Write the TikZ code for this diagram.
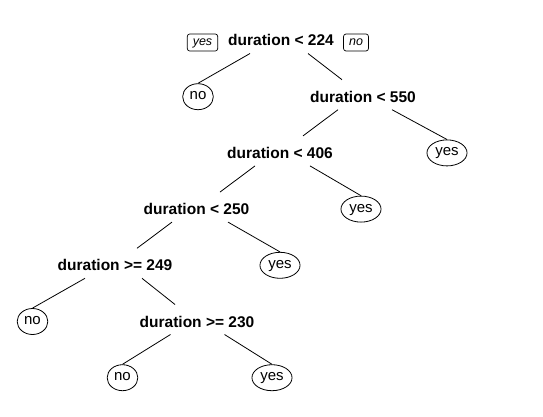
\documentclass[tikz,border=0pt]{standalone}
\usepackage{fontspec}
\setmainfont{Liberation Sans}
\usetikzlibrary{calc,shapes.geometric}
\begin{document}
\begin{tikzpicture}[x=1pt,y=-1pt,
 split/.style={font=\fontsize{15.5}{15.5}\selectfont\bfseries, inner sep=0pt, text height=11pt, text depth=0pt},
 leaf/.style={ellipse, draw, line width=0.8pt, font=\fontsize{15}{15}\selectfont, inner xsep=2.5pt, inner ysep=0pt, text height=9pt, text depth=3pt, minimum height=26pt},
 tag/.style={draw, rounded corners=2.5pt, line width=0.7pt, font=\fontsize{12.5}{12.5}\selectfont\itshape, inner xsep=5.5pt, inner ysep=0pt, text height=9pt, text depth=3pt, minimum height=17pt},
 edge/.style={line width=0.8pt}]
\fill[white] (0,0) rectangle (543,417);
\useasboundingbox (0,0) rectangle (543,417);
% split labels
\node[split] (r) at (281,40.5) {duration < 224};
\node[split] (a) at (363,96.7) {duration < 550};
\node[split] (b) at (280,152.9) {duration < 406};
\node[split] (c) at (196.5,209.1) {duration < 250};
\node[split] (d) at (115,265.3) {duration >= 249};
\node[split] (e) at (197,321.5) {duration >= 230};
% leaves
\node[leaf] (l1) at (198,96.7) {no};
\node[leaf] (l2) at (447,152.9) {yes};
\node[leaf] (l3) at (361,209.1) {yes};
\node[leaf] (l4) at (280,265.3) {yes};
\node[leaf] (l5) at (32.5,321.5) {no};
\node[leaf] (l6) at (122.5,377.7) {no};
\node[leaf] (l7) at (272,377.7) {yes};
% yes/no tags
\node[tag] (ty) at (202.5,42.5) {yes};
\node[tag] (tn) at (356,42.5) {no};
% branches
\draw[edge] ($(r)+(-31,13)$) -- (l1.north);
\draw[edge] ($(r)+(27,13)$) -- ($(a)+(-21,-17)$);
\draw[edge] ($(a)+(-25,13)$) -- ($(b)+(23,-17)$);
\draw[edge] ($(a)+(29,13)$) -- (l2.north);
\draw[edge] ($(b)+(-25,13)$) -- ($(c)+(23.5,-17)$);
\draw[edge] ($(b)+(30,13)$) -- (l3.north);
\draw[edge] ($(c)+(-24.5,13)$) -- ($(d)+(22,-17)$);
\draw[edge] ($(c)+(31.5,13)$) -- (l4.north);
\draw[edge] ($(d)+(-30,13)$) -- (l5.north);
\draw[edge] ($(d)+(27,13)$) -- ($(e)+(-22,-17)$);
\draw[edge] ($(e)+(-26.5,13)$) -- (l6.north);
\draw[edge] ($(e)+(27.5,13)$) -- (l7.north);
\end{tikzpicture}
\end{document}
